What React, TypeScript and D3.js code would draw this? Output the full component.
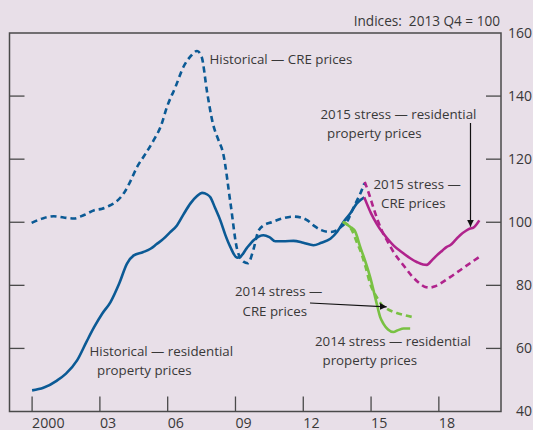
import React from "react";
import * as d3 from "d3";

// ---------- data ----------
const xTickYears = [2000, 2003, 2006, 2009, 2012, 2015, 2018];
const xTickLabels = ["2000", "03", "06", "09", "12", "15", "18"];
const yTicks = [40, 60, 80, 100, 120, 140, 160];

const histCreT = [1999.98, 2000.5, 2000.96, 2001.4, 2001.85, 2002.3, 2002.75, 2003.1, 2003.47, 2003.8, 2004.05, 2004.35, 2004.65, 2005.0, 2005.38, 2005.7, 2005.97, 2006.35, 2006.7, 2007.0, 2007.3, 2007.5, 2007.75, 2008.0, 2008.25, 2008.45, 2008.78, 2009.07, 2009.35, 2009.55, 2009.8, 2010.0, 2010.24, 2010.6, 2010.98, 2011.57, 2011.9, 2012.2, 2012.45, 2012.8, 2013.2, 2013.49, 2013.75, 2013.93, 2014.15, 2014.37, 2014.55, 2014.7];
const histCreV = [99.8, 101.3, 101.9, 101.5, 101.2, 102.3, 103.8, 104.3, 105.4, 107, 109.1, 113, 117.6, 121.5, 126, 130.5, 136.6, 143, 149.3, 152.5, 154.3, 152.5, 141, 131.3, 126, 122, 106, 91.5, 87.5, 87, 91.5, 97, 99.0, 100, 101.0, 101.8, 101.5, 100.5, 99.0, 97.5, 96.9, 97.5, 99, 100.1, 103.5, 106.8, 109.5, 112.3];

const histResT = [2000.0, 2000.5, 2001.1, 2001.5, 2001.99, 2002.4, 2002.75, 2003.1, 2003.47, 2003.85, 2004.2, 2004.5, 2004.9, 2005.24, 2005.5, 2005.82, 2006.1, 2006.41, 2006.7, 2007.0, 2007.3, 2007.52, 2007.75, 2007.88, 2008.1, 2008.33, 2008.55, 2008.77, 2009.07, 2009.2, 2009.5, 2009.8, 2010.24, 2010.5, 2010.76, 2011.2, 2011.57, 2012.0, 2012.45, 2012.8, 2013.2, 2013.5, 2013.78, 2014.1, 2014.37, 2014.7];
const histResV = [46.7, 47.5, 49.8, 52, 56.2, 62, 66.8, 71, 74.7, 80.5, 86.9, 89.5, 90.5, 91.6, 93, 94.8, 96.8, 99.0, 102.5, 105.9, 108.3, 109.3, 108.8, 108, 104.5, 100.6, 96, 92.2, 88.8, 89, 91.8, 94.3, 95.9, 95.3, 94, 94, 94.1, 93.5, 92.7, 93.5, 94.8, 97, 100.1, 103, 106, 107.9];

const s15ResT = [2014.7, 2015.0, 2015.25, 2015.5, 2015.7, 2016.0, 2016.44, 2016.75, 2017.02, 2017.3, 2017.47, 2017.7, 2017.91, 2018.15, 2018.35, 2018.5, 2018.75, 2018.94, 2019.2, 2019.38, 2019.53, 2019.79];
const s15ResV = [107.9, 102.8, 99.5, 96.8, 95, 92.6, 90.1, 88.5, 87.4, 86.6, 86.5, 88, 89.5, 91, 92.2, 92.7, 94.5, 95.9, 97.3, 98, 98.3, 100.6];

const s15CreT = [2014.72, 2014.9, 2015.11, 2015.3, 2015.5, 2015.7, 2016.0, 2016.44, 2016.8, 2017.17, 2017.4, 2017.61, 2017.8, 2018.05, 2018.5, 2018.94, 2019.38, 2019.79];
const s15CreV = [112.8, 109.2, 104.5, 100.5, 97, 94.3, 90.5, 86.3, 83, 80.5, 79.5, 79.3, 79.6, 80.5, 82.6, 84.8, 87, 89];

const s14ResT = [2013.75, 2014.07, 2014.3, 2014.52, 2014.75, 2014.96, 2015.25, 2015.4, 2015.55, 2015.75, 2015.99, 2016.2, 2016.44, 2016.73];
const s14ResV = [100.1, 98.6, 97, 92.2, 87.5, 82.6, 74.2, 70, 67.8, 66, 65.2, 65.8, 66.3, 66.3];

const s14CreT = [2013.75, 2014.15, 2014.35, 2014.52, 2014.75, 2014.96, 2015.25, 2015.45, 2015.7, 2016.14, 2016.5, 2016.8];
const s14CreV = [100.1, 97.5, 94, 91.1, 86, 80.5, 76.3, 74, 72.6, 71.2, 70.5, 70];

// ---------- style ----------
const W = 533, H = 430;
const BG = "#e8dfe8";
const BLUE = "#0b5a95";
const MAGENTA = "#b0238c";
const GREEN = "#79c143";
const AXIS = "#4a4a4a";
const TEXT = "#383838";
const FONT = "'Open Sans', 'Noto Sans', sans-serif";

const plot = { left: 9.5, right: 501, top: 33, bottom: 411.5 };

const x = d3.scaleLinear().domain([1999.0, 2020.75]).range([plot.left, plot.right]);
const y = d3.scaleLinear().domain([40, 160]).range([plot.bottom, plot.top]);

const line = d3
  .line<[number, number]>()
  .x((d) => x(d[0]))
  .y((d) => y(d[1]))
  .curve(d3.curveMonotoneX);

const zip = (t: number[], v: number[]) => t.map((ti, i) => [ti, v[i]] as [number, number]);

const series = [
  { t: histCreT, v: histCreV, color: BLUE, dash: "6,4" },
  { t: histResT, v: histResV, color: BLUE, dash: null },
  { t: s14CreT, v: s14CreV, color: GREEN, dash: "6,4" },
  { t: s14ResT, v: s14ResV, color: GREEN, dash: null },
  { t: s15CreT, v: s15CreV, color: MAGENTA, dash: "6,4" },
  { t: s15ResT, v: s15ResV, color: MAGENTA, dash: null },
];

const labels: { x: number; y: number; text: string }[] = [
  { x: 209.5, y: 59.5, text: "Historical \u2014 CRE prices" },
  { x: 320.5, y: 114, text: "2015 stress \u2014 residential" },
  { x: 327, y: 133, text: "property prices" },
  { x: 373.5, y: 184.5, text: "2015 stress \u2014" },
  { x: 381, y: 203.5, text: "CRE prices" },
  { x: 235, y: 291.5, text: "2014 stress \u2014" },
  { x: 242.5, y: 311.5, text: "CRE prices" },
  { x: 315, y: 341.5, text: "2014 stress \u2014 residential" },
  { x: 322.5, y: 360.5, text: "property prices" },
  { x: 89.5, y: 351.5, text: "Historical \u2014 residential" },
  { x: 97, y: 370.5, text: "property prices" },
];

export default function App() {
  const tickLen = 15;
  return (
    <svg
      width={W}
      height={H}
      style={{ position: "absolute", left: 0, top: 0, display: "block" }}
      fontFamily={FONT}
    >
      <defs>
        <marker id="ah" viewBox="0 0 10 10" refX="10" refY="5" markerWidth="7" markerHeight="7" orient="auto-start-reverse" markerUnits="userSpaceOnUse">
          <path d="M0,0 L10,5 L0,10 z" fill="#111" />
        </marker>
      </defs>
      <rect x={0} y={0} width={W} height={H} fill={BG} />

      {/* frame */}
      <rect
        x={plot.left}
        y={plot.top}
        width={plot.right - plot.left}
        height={plot.bottom - plot.top}
        fill="none"
        stroke={AXIS}
        strokeWidth={1.5}
      />

      {/* y ticks both sides */}
      {yTicks
        .filter((v) => v !== 40 && v !== 160)
        .map((v) => (
          <g key={"yt" + v}>
            <line x1={plot.left} x2={plot.left + tickLen} y1={y(v)} y2={y(v)} stroke={AXIS} strokeWidth={1.3} />
            <line x1={plot.right - tickLen} x2={plot.right} y1={y(v)} y2={y(v)} stroke={AXIS} strokeWidth={1.3} />
          </g>
        ))}
      {yTicks.map((v) => (
        <text key={"yl" + v} x={532} y={y(v)} dy="0.35em" textAnchor="end" fontSize={14} fill={TEXT}>
          {v}
        </text>
      ))}

      {/* x ticks */}
      {xTickYears.map((yr, i) => (
        <g key={"xt" + yr}>
          <line x1={x(yr)} x2={x(yr)} y1={plot.bottom} y2={plot.bottom - tickLen} stroke={AXIS} strokeWidth={1.3} />
          <text x={x(yr)} y={427.5} textAnchor="start" fontSize={14.2} fill={TEXT}>
            {xTickLabels[i]}
          </text>
        </g>
      ))}

      <text x={500} y={21} dy="0.35em" textAnchor="end" fontSize={13.6} fill={TEXT} style={{ whiteSpace: "pre" }}>
        {"Indices:  2013 Q4 = 100"}
      </text>

      {/* series */}
      {series.map((s, i) => (
        <path
          key={"s" + i}
          d={line(zip(s.t, s.v)) || ""}
          fill="none"
          stroke={s.color}
          strokeWidth={2.6}
          strokeDasharray={s.dash || undefined}
          strokeLinejoin="round"
        />
      ))}

      {/* arrows */}
      <line x1={x(2019.4)} x2={x(2019.4)} y1={123} y2={y(98.6)} stroke="#111" strokeWidth={1.2} markerEnd="url(#ah)" />
      <line x1={310} y1={303} x2={x(2015.69)} y2={y(73.2)} stroke="#111" strokeWidth={1.2} markerEnd="url(#ah)" />

      {/* labels */}
      {labels.map((l, i) => (
        <text key={"l" + i} x={l.x} y={l.y} dy="0.35em" fontSize={13.3} fill={TEXT}>
          {l.text}
        </text>
      ))}
    </svg>
  );
}
